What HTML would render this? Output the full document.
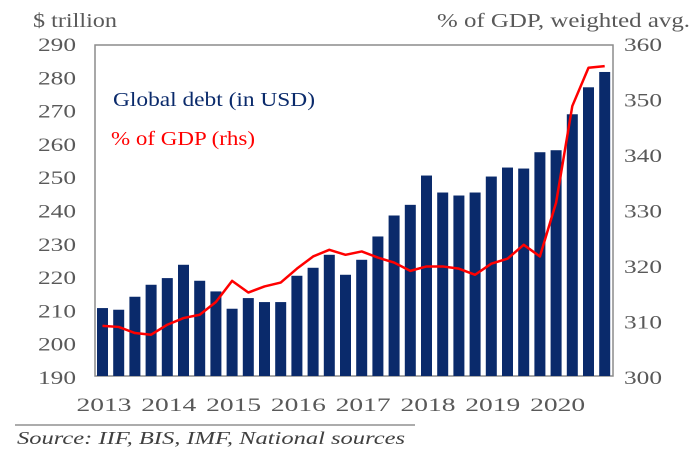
<!DOCTYPE html>
<html><head><meta charset="utf-8"><style>
body{margin:0;background:#fff;}
svg{display:block;font-family:"Liberation Serif",serif;}
</style></head><body>
<svg width="700" height="457" viewBox="0 0 700 457">
<g id="axes"></g>
<g id="bars"></g>
<g id="line"></g>
<text x="33" y="27" font-size="20" fill="#595959" textLength="84" lengthAdjust="spacingAndGlyphs">$ trillion</text>
<text x="437" y="27" font-size="20" fill="#595959" textLength="253" lengthAdjust="spacingAndGlyphs">% of GDP, weighted avg.</text>
<text x="113" y="106" font-size="20" fill="#0a2a6b" textLength="202" lengthAdjust="spacingAndGlyphs">Global debt (in USD)</text>
<text x="111" y="145" font-size="20" fill="#ff0000" textLength="144" lengthAdjust="spacingAndGlyphs">% of GDP (rhs)</text>
<line x1="15" y1="425" x2="415" y2="425" stroke="#595959" stroke-width="1"/>
<text x="17" y="444" font-size="18" font-style="italic" fill="#404040" textLength="388" lengthAdjust="spacingAndGlyphs">Source: IIF, BIS, IMF, National sources</text>
</svg>
<script>
const debt=[211,210.5,214.4,218,220,224,219.2,216,210.8,214,212.8,212.8,220.7,223.1,227,221,225.5,232.5,238.8,242,250.8,245.7,244.8,245.7,250.5,253.2,252.9,257.8,258.4,269.2,277.3,281.9];
const gdpPct=[309.4,309.2,308.1,307.8,309.6,310.8,311.4,313.7,317.5,315.4,316.5,317.2,319.7,321.9,323.1,322.2,322.8,321.7,320.8,319.3,320.1,320.1,319.7,318.6,320.6,321.5,324,321.9,331.6,349,355.9,356.2];
const leftTicks=[190,200,210,220,230,240,250,260,270,280,290];
const rightTicks=[300,310,320,330,340,350,360];
const years=["2013","2014","2015","2016","2017","2018","2019","2020"];
const NS="http://www.w3.org/2000/svg";
const X0=95,X1=613,YT=45,YB=378;
const yL=v=>YB-(v-190)/100*(YB-YT);
const yR=v=>YB-(v-300)/60*(YB-YT);
const step=16.2;
const xC=i=>97+5.5+i*step;
function mk(t,a,p){const e=document.createElementNS(NS,t);for(const k in a)e.setAttribute(k,a[k]);p.appendChild(e);return e;}
const ax=document.getElementById('axes');
const fr=mk('rect',{x:X0,y:YT,width:X1-X0,height:YB-2-YT,fill:'none',stroke:'#8c8c8c','stroke-width':1.5},ax);


leftTicks.forEach(v=>{const t=mk('text',{x:76,y:yL(v)+6,'font-size':19,fill:'#595959','text-anchor':'end',textLength:38,lengthAdjust:'spacingAndGlyphs'},ax);t.textContent=v;

});
rightTicks.forEach(v=>{const t=mk('text',{x:624,y:yR(v)+6,'font-size':19,fill:'#595959',textLength:38,lengthAdjust:'spacingAndGlyphs'},ax);t.textContent=v;

});
years.forEach((y,i)=>{const t=mk('text',{x:xC(i*4)+1-27,y:411,'font-size':19,fill:'#595959',textLength:55,lengthAdjust:'spacingAndGlyphs'},ax);t.textContent=y;

});
const bg=document.getElementById('bars');
debt.forEach((v,i)=>{const r=mk('rect',{x:xC(i)-5.5,y:yL(v),width:11,height:YB-2-yL(v),fill:'#0a2a6b'},bg);

});
const lg=document.getElementById('line');
const p=mk('polyline',{points:gdpPct.map((v,i)=>xC(i)+','+yR(v)).join(' '),fill:'none',stroke:'#ff0000','stroke-width':2.5,'stroke-linejoin':'round'},lg);


</script>
</body></html>
